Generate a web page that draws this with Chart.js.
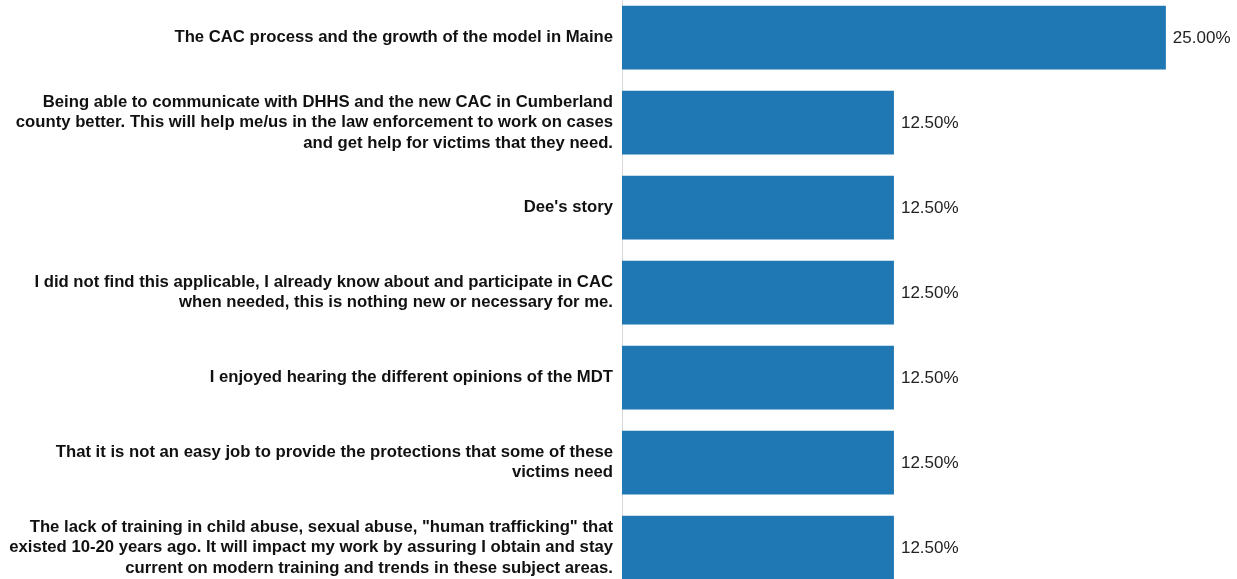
<!DOCTYPE html>
<html>
<head>
<meta charset="utf-8">
<script src="https://cdn.jsdelivr.net/npm/chart.js@4.4.1/dist/chart.umd.min.js"></script>
<style>
  html, body { margin: 0; padding: 0; background: #fff; overflow: hidden; width: 1237px; height: 579px; }
  #wrap { position: absolute; left: 0; top: -5px; width: 1237px; height: 595px; }
</style>
</head>
<body>
<div id="wrap"><canvas id="c"></canvas></div>
<script>
const categories = [
  ["The CAC process and the growth of the model in Maine"],
  ["Being able to communicate with DHHS and the new CAC in Cumberland",
   "county better. This will help me/us in the law enforcement to work on cases",
   "and get help for victims that they need."],
  ["Dee's story"],
  ["I did not find this applicable, I already know about and participate in CAC",
   "when needed, this is nothing new or necessary for me."],
  ["I enjoyed hearing the different opinions of the MDT"],
  ["That it is not an easy job to provide the protections that some of these",
   "victims need"],
  ["The lack of training in child abuse, sexual abuse, \"human trafficking\" that",
   "existed 10-20 years ago. It will impact my work by assuring I obtain and stay",
   "current on modern training and trends in these subject areas."]
];
const values = [25.0, 12.5, 12.5, 12.5, 12.5, 12.5, 12.5];
const xMax = 28.27;

const valueLabels = {
  id: 'valueLabels',
  afterDatasetsDraw(chart) {
    const ctx = chart.ctx;
    const meta = chart.getDatasetMeta(0);
    ctx.save();
    ctx.font = '17px "Liberation Sans", Arial, sans-serif';
    ctx.fillStyle = '#222';
    ctx.textAlign = 'left';
    ctx.textBaseline = 'middle';
    meta.data.forEach((bar, i) => {
      ctx.fillText(values[i].toFixed(2) + '%', bar.x + 7, bar.y + 1);
    });
    ctx.restore();
  }
};

new Chart(document.getElementById('c'), {
  type: 'bar',
  data: {
    labels: categories,
    datasets: [{
      data: values,
      backgroundColor: '#1f77b4',
      borderWidth: 0,
      barPercentage: 0.75,
      categoryPercentage: 1.0
    }]
  },
  options: {
    indexAxis: 'y',
    responsive: true,
    maintainAspectRatio: false,
    animation: false,
    layout: { padding: 0 },
    plugins: { legend: { display: false }, tooltip: { enabled: false } },
    scales: {
      x: {
        display: false,
        min: 0,
        max: xMax,
        afterFit(s) { s.height = 0; s.paddingLeft = 0; s.paddingRight = 0; }
      },
      y: {
        grid: { display: false, drawTicks: false },
        border: { display: true, color: '#d9d9d9', width: 1 },
        ticks: {
          padding: 9,
          color: '#111',
          font: { family: '"Liberation Sans", Arial, sans-serif', size: 16.7, weight: 'bold', lineHeight: 1.23 }
        },
        afterFit(s) { s.width = 622; s.paddingTop = 0; s.paddingBottom = 0; }
      }
    }
  },
  plugins: [valueLabels]
});
</script>
</body>
</html>
